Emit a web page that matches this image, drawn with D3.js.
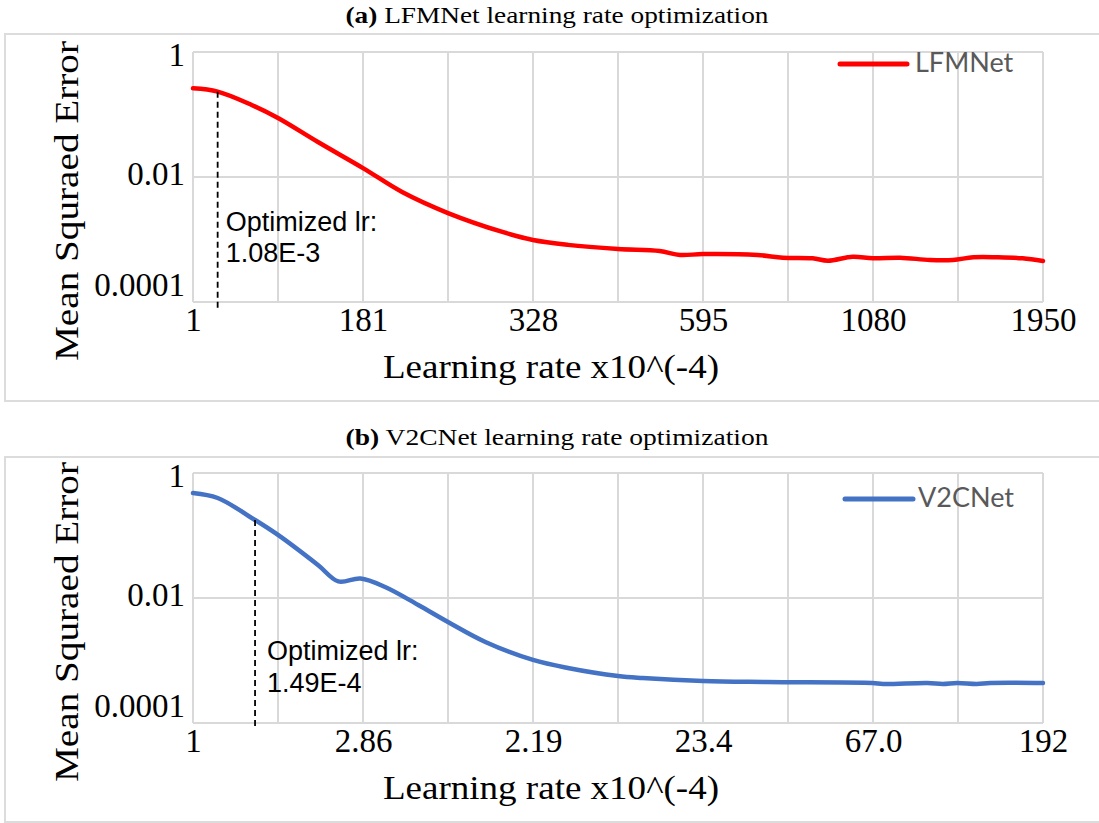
<!DOCTYPE html>
<html>
<head>
<meta charset="utf-8">
<script src="https://cdn.jsdelivr.net/npm/d3@7/dist/d3.min.js"></script>
<style>
  body { margin: 0; background: #fff; }
</style>
</head>
<body>
<script>
// --- data ---
// x positions are in grid units along the category axis (0 = first label, 10 = last)
var lfmPos = [0, 0.29, 0.69, 1, 1.47, 2, 2.46, 3, 3.64, 4, 4.41, 5, 5.49, 5.73, 6, 6.64, 6.94, 7.29, 7.47, 7.76, 8, 8.32, 8.67, 8.94, 9.18, 9.46, 9.76, 10];
var lfmMse = [0.262, 0.232, 0.142, 0.088, 0.0363, 0.0139, 0.00575, 0.00265, 0.00132, 0.00098, 0.00082, 0.000705, 0.000655, 0.000565, 0.000586, 0.000565, 0.000512, 0.0005, 0.000458, 0.000531, 0.0005, 0.000512, 0.00047, 0.00047, 0.000519, 0.000519, 0.0005, 0.000453];

var v2cPos = [0, 0.29, 0.73, 1, 1.47, 1.71, 1.97, 2.26, 2.65, 3, 3.44, 4, 4.41, 5, 5.29, 6, 6.75, 7.99, 8.12, 8.64, 8.82, 8.99, 9.22, 9.38, 10];
var v2cMse = [0.479, 0.398, 0.177, 0.102, 0.0337, 0.0184, 0.0205, 0.015, 0.00773, 0.00413, 0.00198, 0.00102, 0.000759, 0.000565, 0.000525, 0.00047, 0.000453, 0.000437, 0.000421, 0.000437, 0.000421, 0.000437, 0.000421, 0.000437, 0.000437];

var lfmTickLabels = ["1", "181", "328", "595", "1080", "1950"];
var v2cTickLabels = ["1", "2.86", "2.19", "23.4", "67.0", "192"];
var xTickPos = [0, 2, 4, 6, 8, 10];
var xGridPos = [0, 1, 2, 3, 4, 5, 6, 7, 8, 9, 10];
var yTickValues = [1, 0.01, 0.0001];
var yTickLabels = ["1", "0.01", "0.0001"];

// optimized learning rate markers
var lfmOpt = [0.29, 0.232];
var v2cOpt = [0.73, 0.177];

var serif = "'Liberation Serif', 'Times New Roman', serif";
var W = 1099, H = 823;
var plotLeft = 193, plotRight = 1043, plotH = 250;

var svg = d3.select("body")
  .append("svg")
  .attr("width", W)
  .attr("height", H);

var panels = [
  { tag: "(a)", title: " LFMNet learning rate optimization", titleY: 23,
    frameY: 34, frameH: 367, top: 52,
    pos: lfmPos, mse: lfmMse, ticks: lfmTickLabels, color: "#ff0000",
    name: "LFMNet", legY: 12, legX: [840, 907, 915],
    opt: lfmOpt, optText: ["Optimized lr:", "1.08E-3"], annDx: 8, annY: [179, 210] },
  { tag: "(b)", title: " V2CNet learning rate optimization", titleY: 445,
    frameY: 457, frameH: 365, top: 473,
    pos: v2cPos, mse: v2cMse, ticks: v2cTickLabels, color: "#4472c4",
    name: "V2CNet", legY: 26, legX: [845, 913, 918],
    opt: v2cOpt, optText: ["Optimized lr:", "1.49E-4"], annDx: 12, annY: [187, 219] }
];

panels.forEach(drawPanel);

function drawPanel(p) {
  var bottom = p.top + plotH;

  // outer frame
  svg.append("rect")
    .attr("x", 5).attr("y", p.frameY)
    .attr("width", W + 10).attr("height", p.frameH)
    .attr("fill", "none")
    .attr("stroke", "#dcdcdc")
    .attr("stroke-width", 2);

  // caption
  var cap = svg.append("text")
    .attr("x", 557).attr("y", p.titleY)
    .attr("text-anchor", "middle")
    .attr("textLength", 423)
    .attr("lengthAdjust", "spacingAndGlyphs")
    .style("font-family", serif)
    .style("font-size", "24px")
    .style("fill", "#000");
  cap.append("tspan").style("font-weight", "bold").text(p.tag);
  cap.append("tspan").text(p.title);

  var x = d3.scaleLinear().domain([0, 10]).range([plotLeft, plotRight]);
  var y = d3.scaleLog().domain([0.0001, 1]).range([bottom, p.top]);

  var g = svg.append("g");

  // gridlines
  g.selectAll(".vgrid")
    .data(xGridPos)
    .enter().append("line")
    .attr("x1", function (d) { return x(d); })
    .attr("x2", function (d) { return x(d); })
    .attr("y1", p.top).attr("y2", bottom)
    .attr("stroke", "#d9d9d9").attr("stroke-width", 2);

  g.selectAll(".hgrid")
    .data(yTickValues)
    .enter().append("line")
    .attr("x1", plotLeft).attr("x2", plotRight)
    .attr("y1", function (d) { return y(d); })
    .attr("y2", function (d) { return y(d); })
    .attr("stroke", "#d9d9d9").attr("stroke-width", 2);

  // x axis
  var xAxis = d3.axisBottom(x)
    .tickValues(xTickPos)
    .tickSize(0)
    .tickPadding(6)
    .tickFormat(function (d, i) { return p.ticks[i]; });
  var xg = g.append("g")
    .attr("transform", "translate(0," + bottom + ")")
    .call(xAxis);
  xg.select(".domain").remove();
  xg.selectAll("text")
    .style("font-family", serif)
    .style("font-size", "33px")
    .style("fill", "#000");

  // y axis
  var yAxis = d3.axisLeft(y)
    .tickValues(yTickValues)
    .tickSize(0)
    .tickPadding(8)
    .tickFormat(function (d, i) { return yTickLabels[i]; });
  var yg = g.append("g")
    .attr("transform", "translate(" + plotLeft + ",0)")
    .call(yAxis);
  yg.select(".domain").remove();
  yg.selectAll("text")
    .attr("dy", 0)
    .attr("y", function (d) {
      var base = Math.max(p.top + 13, Math.min(bottom - 7, y(d) + 7));
      return base - y(d);
    })
    .style("font-family", serif)
    .style("font-size", "33px")
    .style("fill", "#000");

  // axis titles
  svg.append("text")
    .attr("x", 551).attr("y", bottom + 76)
    .attr("text-anchor", "middle")
    .attr("textLength", 336)
    .attr("lengthAdjust", "spacingAndGlyphs")
    .style("font-family", serif)
    .style("font-size", "33px")
    .text("Learning rate x10^(-4)");

  svg.append("text")
    .attr("transform", "translate(78," + (p.top + plotH / 2 + 24) + ") rotate(-90)")
    .attr("text-anchor", "middle")
    .attr("textLength", 320)
    .attr("lengthAdjust", "spacingAndGlyphs")
    .style("font-family", serif)
    .style("font-size", "33px")
    .text("Mean Squraed Error");

  // series line
  var pts = p.pos.map(function (d, i) { return [d, p.mse[i]]; });
  var line = d3.line()
    .x(function (d) { return x(d[0]); })
    .y(function (d) { return y(d[1]); })
    .curve(d3.curveCatmullRom.alpha(0.5));
  g.append("path")
    .datum(pts)
    .attr("d", line)
    .attr("fill", "none")
    .attr("stroke", p.color)
    .attr("stroke-width", 4.5)
    .attr("stroke-linecap", "round")
    .attr("stroke-linejoin", "round");

  // optimized lr marker
  g.append("line")
    .attr("x1", x(p.opt[0])).attr("x2", x(p.opt[0]))
    .attr("y1", y(p.opt[1])).attr("y2", bottom + 6)
    .attr("stroke", "#000")
    .attr("stroke-width", 1.8)
    .attr("stroke-dasharray", "6,4");

  g.selectAll(".ann")
    .data(p.optText)
    .enter().append("text")
    .attr("x", x(p.opt[0]) + p.annDx)
    .attr("y", function (d, i) { return p.top + p.annY[i]; })
    .style("font-family", "'Liberation Sans', Arial, sans-serif")
    .style("font-size", "27px")
    .style("fill", "#000")
    .text(function (d) { return d; });

  // legend
  var ly = p.top + p.legY;
  g.append("line")
    .attr("x1", p.legX[0]).attr("x2", p.legX[1])
    .attr("y1", ly).attr("y2", ly)
    .attr("stroke", p.color)
    .attr("stroke-width", 5)
    .attr("stroke-linecap", "round");
  g.append("text")
    .attr("x", p.legX[2]).attr("y", ly + 8)
    .style("font-family", "Lato, 'Open Sans', sans-serif")
    .style("font-size", "27px")
    .style("fill", "#595959")
    .text(p.name);
}
</script>
</body>
</html>
